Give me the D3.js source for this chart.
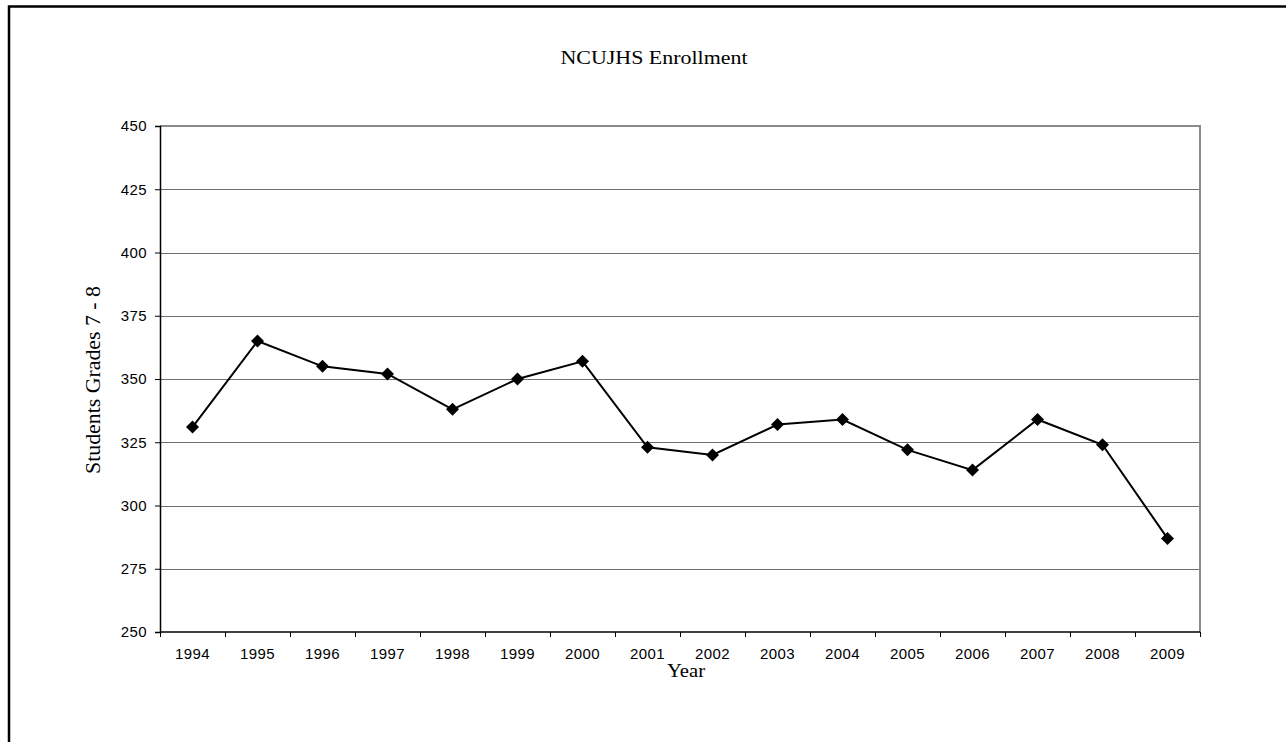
<!DOCTYPE html>
<html>
<head>
<meta charset="utf-8">
<script src="https://cdn.jsdelivr.net/npm/d3@7"></script>
<style>
  html, body { margin: 0; padding: 0; background: #fff; }
  svg { display: block; }
</style>
</head>
<body>
<svg id="chart" width="1286" height="742"></svg>
<script>
// Enrollment by school year, students in grades 7 - 8
const years = ["1994","1995","1996","1997","1998","1999","2000","2001","2002","2003","2004","2005","2006","2007","2008","2009"];
const students = [331, 365, 355, 352, 338, 350, 357, 323, 320, 332, 334, 322, 314, 334, 324, 287];
const yTicks = [250, 275, 300, 325, 350, 375, 400, 425, 450];

const svg = d3.select("#chart");
const W = 1286, H = 742;
const plot = { left: 160, top: 126, right: 1200, bottom: 632 };
const sans = "'Liberation Sans', Arial, sans-serif";
const serif = "'Liberation Serif', 'Times New Roman', serif";

// Outer frame (runs off the right and bottom edges)
svg.append("rect")
  .attr("x", 9).attr("y", 6.5)
  .attr("width", W + 20).attr("height", H + 20)
  .attr("fill", "none").attr("stroke", "#000").attr("stroke-width", 2.5);

const x = d3.scaleBand().domain(years).range([plot.left, plot.right]).padding(0);
const y = d3.scaleLinear().domain([250, 450]).range([plot.bottom, plot.top]);

// Horizontal gridlines
svg.append("g")
  .selectAll("line")
  .data(yTicks.filter(t => t > 250 && t < 450))
  .join("line")
  .attr("x1", plot.left).attr("x2", plot.right)
  .attr("y1", d => Math.round(y(d)) + 0.5).attr("y2", d => Math.round(y(d)) + 0.5)
  .attr("stroke", "#6f6f6f").attr("stroke-width", 1);

// Plot-area border: grey top and right
svg.append("path")
  .attr("d", `M${plot.left},${plot.top}H${plot.right}V${plot.bottom}`)
  .attr("fill", "none").attr("stroke", "#8a8a8a").attr("stroke-width", 2);

// Y axis
const yAxis = svg.append("g")
  .attr("transform", `translate(${plot.left},0)`)
  .call(d3.axisLeft(y).tickValues(yTicks).tickSize(5).tickPadding(8).tickFormat(d3.format("d")));
yAxis.select(".domain").attr("stroke", "#000").attr("stroke-width", 1.5);
yAxis.selectAll(".tick line").attr("stroke", "#000");
yAxis.selectAll("text")
  .attr("font-family", sans)
  .attr("font-size", 15).attr("fill", "#000").attr("letter-spacing", "0.4px");

// X axis: ticks on category boundaries, labels centred in each band
const xAxisG = svg.append("g").attr("transform", `translate(0,${plot.bottom})`);
xAxisG.append("line")
  .attr("x1", plot.left).attr("x2", plot.right)
  .attr("y1", 0).attr("y2", 0)
  .attr("stroke", "#000").attr("stroke-width", 1.5);
const bounds = years.map(d => x(d)).concat([x(years[years.length - 1]) + x.bandwidth()]);
xAxisG.selectAll(".bt")
  .data(bounds)
  .join("line")
  .attr("class", "bt")
  .attr("x1", d => Math.round(d) + 0.5).attr("x2", d => Math.round(d) + 0.5)
  .attr("y1", 0).attr("y2", 5)
  .attr("stroke", "#000");
xAxisG.selectAll(".yl")
  .data(years)
  .join("text")
  .attr("class", "yl")
  .attr("x", d => x(d) + x.bandwidth() / 2)
  .attr("y", 27)
  .attr("text-anchor", "middle")
  .attr("font-family", sans)
  .attr("font-size", 15).attr("letter-spacing", "0.4px")
  .text(d => d);

// Series line
const cx = d => x(d) + x.bandwidth() / 2;
svg.append("path")
  .datum(years.map((yr, i) => [yr, students[i]]))
  .attr("fill", "none").attr("stroke", "#000").attr("stroke-width", 2)
  .attr("d", d3.line().x(d => cx(d[0])).y(d => y(d[1])));

// Diamond markers
svg.append("g")
  .selectAll("path")
  .data(years.map((yr, i) => [yr, students[i]]))
  .join("path")
  .attr("transform", d => `translate(${cx(d[0])},${y(d[1])})`)
  .attr("d", "M0,-6.5L6.5,0L0,6.5L-6.5,0Z")
  .attr("fill", "#000");

// Titles
svg.append("text")
  .attr("x", 654).attr("y", 64)
  .attr("text-anchor", "middle")
  .attr("font-family", serif).attr("font-size", 19)
  .attr("textLength", 187).attr("lengthAdjust", "spacingAndGlyphs")
  .text("NCUJHS Enrollment");

svg.append("text")
  .attr("x", 686).attr("y", 677)
  .attr("text-anchor", "middle")
  .attr("font-family", serif).attr("font-size", 19)
  .attr("textLength", 38).attr("lengthAdjust", "spacingAndGlyphs")
  .text("Year");

svg.append("text")
  .attr("transform", "translate(100,380) rotate(-90)")
  .attr("text-anchor", "middle")
  .attr("font-family", serif).attr("font-size", 20)
  .attr("textLength", 188).attr("lengthAdjust", "spacingAndGlyphs")
  .text("Students Grades 7 - 8");
</script>
</body>
</html>
